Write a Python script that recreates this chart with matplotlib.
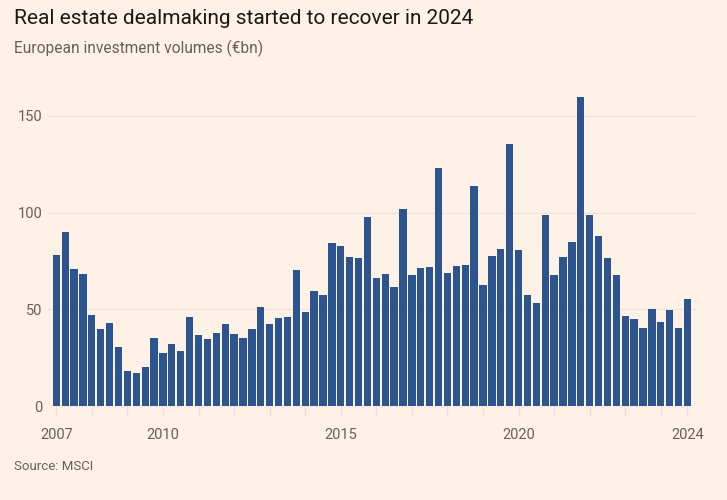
import matplotlib
matplotlib.use("Agg")
import matplotlib.pyplot as plt
import numpy as np

# quarterly European real estate investment volumes, 2007 Q1 - 2024 Q4 (EUR bn)
volumes = [
    78.1, 90.0, 70.7, 68.3,    # 2007
    46.9, 39.8, 42.9, 30.7,    # 2008
    17.9, 16.9, 20.0, 35.2,    # 2009
    27.6, 32.2, 28.6, 45.9,    # 2010
    36.6, 34.8, 37.8, 42.6,    # 2011
    37.4, 35.2, 39.8, 51.2,    # 2012
    42.2, 45.7, 46.2, 70.5,    # 2013
    48.4, 59.7, 57.4, 84.1,    # 2014
    82.9, 77.1, 76.4, 97.8,    # 2015
    66.0, 68.4, 61.4, 101.9,   # 2016
    67.6, 71.4, 72.1, 123.1,   # 2017
    69.0, 72.4, 72.9, 113.8,   # 2018
    62.6, 77.6, 81.2, 135.5,   # 2019
    80.5, 57.2, 53.4, 98.6,    # 2020
    67.9, 76.9, 84.8, 160.0,   # 2021
    99.0, 87.8, 76.6, 67.9,    # 2022
    46.7, 45.0, 40.2, 50.2,    # 2023
    43.3, 49.7, 40.3, 55.5,    # 2024
]
first_year = 2007
label_years = [2007, 2010, 2015, 2020]
y_ticks = [0, 50, 100, 150]

bg = "#fff1e5"
bar_color = "#2c5590"
grid_color = "#f3e3d6"
text_grey = "#66605c"

plt.rcParams['font.family'] = ['Roboto', 'DejaVu Sans']

fig = plt.figure(figsize=(7.27, 5.0), dpi=100, facecolor=bg)
ax = fig.add_axes([48 / 727, 94 / 500, 649 / 727, 319 / 500], facecolor=bg)

x = np.arange(len(volumes))
ax.bar(x, volumes, width=0.82, color=bar_color, zorder=3)

ax.set_xlim(-0.93, 72.07)
ax.set_ylim(0, 165)

ax.set_yticks(y_ticks)
ax.set_yticklabels([str(v) for v in y_ticks])
ax.grid(axis='y', color=grid_color, linewidth=1, zorder=0)
ax.tick_params(axis='y', length=0, pad=4, labelsize=10.5, labelcolor=text_grey)

n_years = len(volumes) // 4
year_pos = [4 * i for i in range(n_years)] + [len(volumes) - 1]
year_lab = [str(first_year + i) if (first_year + i) in label_years else ""
            for i in range(n_years)] + [str(first_year + n_years - 1)]
ax.set_xticks(year_pos)
ax.set_xticklabels(year_lab)
ax.tick_params(axis='x', length=7, width=1, color="#ecdfd3", pad=9,
               labelsize=10.5, labelcolor=text_grey)

for s in ax.spines.values():
    s.set_visible(False)

fig.text(14 / 727, 1 - 19 / 500, "Real estate dealmaking started to recover in 2024",
         fontsize=15, color="#1a1817", va='center', ha='left')
fig.text(14 / 727, 1 - 48 / 500, "European investment volumes (€bn)",
         fontsize=11.2, color=text_grey, va='center', ha='left')
fig.text(14 / 727, 1 - 466 / 500, "Source: MSCI",
         fontsize=9.5, color=text_grey, va='center', ha='left')

fig.savefig("out.png", dpi=100, facecolor=bg)
